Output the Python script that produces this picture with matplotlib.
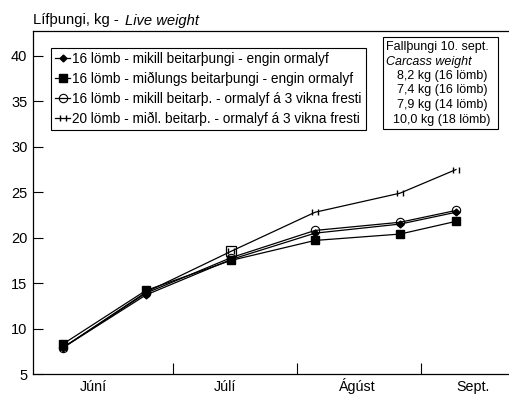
import matplotlib
matplotlib.use("Agg")
import matplotlib.pyplot as plt
from matplotlib.path import Path
from matplotlib.patches import Rectangle

plt.rcParams["font.family"] = ["Liberation Sans", "DejaVu Sans"]

# dagar frá 1. júní
dagar = [2.5, 23.25, 44.5, 65.5, 86.75, 100.75]
mikill_engin = [7.9, 13.7, 17.6, 20.5, 21.5, 22.8]
midl_engin = [8.3, 14.2, 17.5, 19.7, 20.4, 21.8]
mikill_ormalyf = [7.9, 13.9, 17.8, 20.8, 21.7, 23.0]
midl_ormalyf = [7.9, 14.0, 18.5, 22.8, 24.9, 27.5]

heiti = [
    "16 lömb - mikill beitarþungi - engin ormalyf",
    "16 lömb - miðlungs beitarþungi - engin ormalyf",
    "16 lömb - mikill beitarþ. - ormalyf á 3 vikna fresti",
    "20 lömb - miðl. beitarþ. - ormalyf á 3 vikna fresti",
]
fallthungi = ["8,2 kg (16 lömb)", "7,4 kg (16 lömb)", "7,9 kg (14 lömb)", "10,0 kg (18 lömb)"]

manadaskil = [30, 61, 92]
manudir = ["Júní", "Júlí", "Ágúst", "Sept."]
manud_stadur = [10, 43, 76, 105]

# merki: tvö lóðrétt strik
strik = Path([(-1, -1), (-1, 1), (1, -1), (1, 1)],
             [Path.MOVETO, Path.LINETO, Path.MOVETO, Path.LINETO])

W, H = 509, 394
fig = plt.figure(figsize=(W / 100, H / 100), dpi=100)
ax = fig.add_axes([33 / W, 1 - 374 / H, 1 - 33 / W, (374 - 31) / H])

lw = 0.9
ax.plot(dagar, midl_ormalyf, color="black", lw=lw, marker=strik, ms=5, mew=1.0, label=heiti[3])
ax.plot(dagar[2], midl_ormalyf[2], "s", mfc="none", mec="black", ms=6.5, mew=0.9)
ax.plot(dagar, mikill_ormalyf, color="black", lw=lw, marker="o", mfc="none", mec="black", ms=6, mew=0.8, label=heiti[2])
ax.plot(dagar, midl_engin, color="black", lw=lw, marker="s", mfc="black", mec="black", ms=6, label=heiti[1])
ax.plot(dagar, mikill_engin, color="black", lw=lw, marker="D", mfc="black", mec="black", ms=3.5, label=heiti[0])

ax.set_xlim(-5, 114)
ax.set_ylim(5, 42.75)
ax.set_yticks([5, 10, 15, 20, 25, 30, 35, 40])
ax.tick_params(axis="y", direction="in", length=7, width=0.8, labelsize=10.5, pad=4)

ax.set_xticks(manadaskil)
ax.set_xticklabels([])
ax.tick_params(axis="x", direction="in", length=8, width=0.8)
for x, m in zip(manud_stadur, manudir):
    ax.text(x, -0.05, m, transform=ax.get_xaxis_transform(), ha="center",
            va="baseline", fontsize=10.3)

ax.spines["right"].set_visible(False)
for s in ["left", "top", "bottom"]:
    ax.spines[s].set_linewidth(0.9)

handles, labels = ax.get_legend_handles_labels()
leg = ax.legend(handles[::-1], labels[::-1], loc="upper left",
                bbox_to_anchor=(51 / W, 1 - 48 / H), bbox_transform=fig.transFigure,
                borderaxespad=0, fontsize=9.8, handlelength=1.1, handletextpad=0.15,
                labelspacing=0.42, borderpad=0.3, fancybox=False, framealpha=1)
leg.get_frame().set_edgecolor("black")
leg.get_frame().set_linewidth(0.8)

# rammi um fallþunga
fig.patches.append(Rectangle((383 / W, 1 - 129 / H), (498 - 383) / W, (129 - 37) / H,
                             transform=fig.transFigure, fill=False, edgecolor="black", lw=0.8))
fig.text(386 / W, 1 - 47 / H, "Fallþungi 10. sept.", fontsize=9, va="center")
fig.text(386 / W, 1 - 61.5 / H, "Carcass weight", fontsize=9, style="italic", va="center")
for i, t in enumerate(fallthungi):
    fig.text(442 / W, 1 - (76 + 14.5 * i) / H, t, fontsize=9, ha="center", va="center")

fig.text(33 / W, 1 - 20 / H, "Lífþungi, kg -", fontsize=10.6, va="center")
fig.text(125 / W, 1 - 21 / H, "Live weight", fontsize=10.6, style="italic", va="center")

fig.savefig("out.png", dpi=100)
